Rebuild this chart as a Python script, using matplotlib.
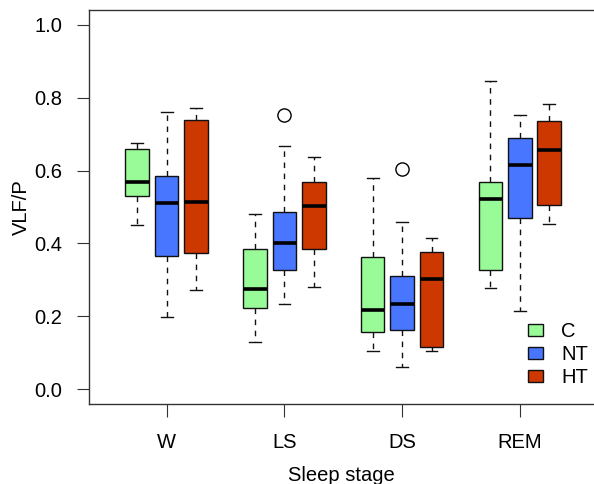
import numpy as np
import matplotlib.pyplot as plt
from matplotlib.patches import Patch

plt.rcParams['font.family'] = ['Liberation Sans', 'DejaVu Sans']

stages = ['W', 'LS', 'DS', 'REM']
groups = ['C', 'NT', 'HT']
colors = ['#98FB98', '#4876FF', '#CD3700']

# whisker low, q1, median, q3, whisker high for W, LS, DS, REM
C_stats = [[0.450, 0.531, 0.569, 0.659, 0.676],
           [0.131, 0.223, 0.276, 0.385, 0.480],
           [0.105, 0.158, 0.217, 0.362, 0.580],
           [0.278, 0.326, 0.523, 0.569, 0.845]]
NT_stats = [[0.198, 0.365, 0.511, 0.586, 0.760],
            [0.234, 0.326, 0.402, 0.487, 0.667],
            [0.061, 0.164, 0.235, 0.310, 0.460],
            [0.214, 0.469, 0.615, 0.690, 0.753]]
HT_stats = [[0.272, 0.373, 0.514, 0.738, 0.771],
            [0.281, 0.384, 0.502, 0.568, 0.638],
            [0.105, 0.116, 0.302, 0.378, 0.416],
            [0.454, 0.505, 0.656, 0.735, 0.782]]
C_out = [[], [], [], []]
NT_out = [[], [0.751], [0.603], []]
HT_out = [[], [], [], []]

all_stats = [C_stats, NT_stats, HT_stats]
all_out = [C_out, NT_out, HT_out]

fig = plt.figure(figsize=(5.94, 4.84), dpi=100)
ax = fig.add_axes([89/594, 80/484, 1 - 89/594, 394/484])

x = np.arange(1, len(stages) + 1)
offsets = [-0.25, 0, 0.25]
for g in range(len(groups)):
    bxs = []
    for i in range(len(stages)):
        s = all_stats[g][i]
        bxs.append(dict(whislo=s[0], q1=s[1], med=s[2], q3=s[3], whishi=s[4],
                        fliers=all_out[g][i]))
    ax.bxp(bxs, positions=x + offsets[g], widths=0.2, capwidths=0.1,
           patch_artist=True, manage_ticks=False,
           boxprops=dict(facecolor=colors[g], edgecolor='#111111', linewidth=1),
           medianprops=dict(color='black', linewidth=2.6, solid_capstyle='butt'),
           whiskerprops=dict(color='#111111', linewidth=1, linestyle=(0, (4, 4))),
           capprops=dict(color='#111111', linewidth=1),
           flierprops=dict(marker='o', markerfacecolor='none', markeredgecolor='black',
                           markersize=9.5, markeredgewidth=1))

ax.set_xlim(0.34, 4.63)
ax.set_ylim(-0.04, 1.04)
ax.set_xticks(x)
ax.set_xticklabels(stages)
ax.set_yticks([0.0, 0.2, 0.4, 0.6, 0.8, 1.0])
ax.set_yticklabels(['0.0', '0.2', '0.4', '0.6', '0.8', '1.0'])
ax.tick_params(labelsize=14.5, length=9, width=0.8, color='#333333')
ax.tick_params(axis='y', pad=10)
ax.tick_params(axis='x', pad=12)
ax.spines['right'].set_visible(False)
for sp in ['left', 'top', 'bottom']:
    ax.spines[sp].set_color('#333333')
    ax.spines[sp].set_linewidth(1)

ax.set_xlabel('Sleep stage', fontsize=14.5, labelpad=10)
ax.set_ylabel('VLF/P', fontsize=14.5, labelpad=2.5)

handles = [Patch(facecolor=colors[g], edgecolor='#111111', linewidth=1) for g in range(len(groups))]
ax.legend(handles, groups, loc='upper left', bbox_to_anchor=(528/594, 1 - 322/484),
          bbox_transform=fig.transFigure, frameon=False, fontsize=14.5,
          borderpad=0, borderaxespad=0, handlelength=0.75, handleheight=0.6,
          labelspacing=0.2, handletextpad=0.9)

fig.savefig('out.png', dpi=100)
